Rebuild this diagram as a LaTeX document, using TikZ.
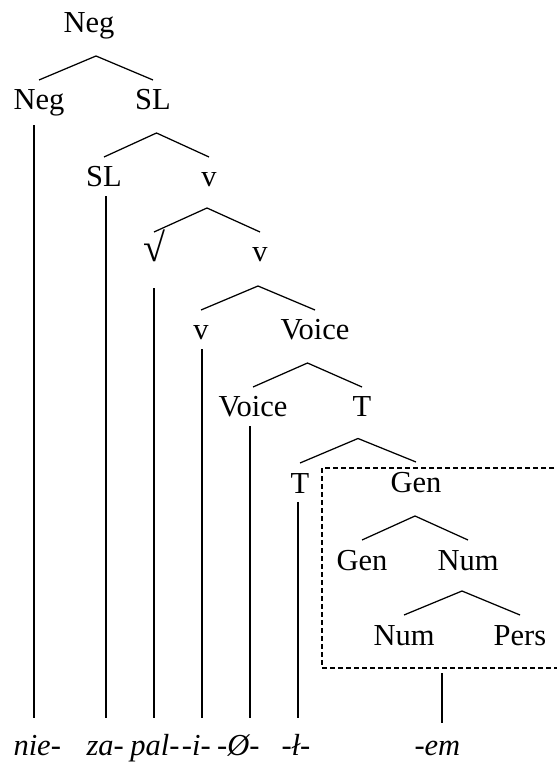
\documentclass[tikz,border=0pt]{standalone}
\usepackage{fontspec}
\setmainfont{Liberation Serif}
\usetikzlibrary{calc, positioning}

\begin{document}
\begin{tikzpicture}[x=0.4pt, y=-0.4pt, font=\fontsize{12.2}{14}\selectfont,
    cat/.style={anchor=base},
    morph/.style={anchor=base west, inner sep=0pt, font=\fontsize{12.2}{14}\selectfont\itshape},
    branch/.style={line width=0.5pt},
    stem/.style={line width=0.8pt},
    spellout/.style={dashed, dash pattern=on 2pt off 1.2pt, line width=0.45pt}]
    \useasboundingbox (0,0) rectangle (556,764);

    % tree nodes
    \node[cat] (n0) at (89,33) {Neg};
    \node[cat] (n1) at (39,110) {Neg};
    \node[cat] (s1) at (153,110) {SL};
    \node[cat] (s2) at (104,187) {SL};
    \node[cat] (v1) at (209,187) {v};
    \node[cat, font=\fontsize{16}{18}\selectfont, text depth=7pt] (r) at (154,262) {√};
    \node[cat] (v2) at (260,262) {v};
    \node[cat] (v3) at (201,340) {v};
    \node[cat] (vo1) at (315,340) {Voice};
    \node[cat] (vo2) at (253,417) {Voice};
    \node[cat] (t1) at (362,417) {T};
    \node[cat] (t2) at (300,493) {T};
    \node[cat] (g1) at (416,492) {Gen};
    \node[cat] (g2) at (362,570) {Gen};
    \node[cat] (nu1) at (468,570) {Num};
    \node[cat] (nu2) at (404,645) {Num};
    \node[cat] (p) at (520,645) {Pers};

    % exponents
    \node[morph] (nie) at (13,755) {nie-};
    \node[morph] (za) at (86,755) {za-};
    \node[morph] (pal) [base right=2.2pt of za] {pal-};
    \node[morph] (i) [base right=0.6pt of pal] {-i-};
    \node[morph] (zero) [base right=2.2pt of i] {-Ø-};
    \node[morph] (l) at (281,755) {-ł-};
    \node[morph] (em) at (414,755) {-em};

    \coordinate (bot) at (0,718);
    \coordinate (boxnw) at (322,468);
    \coordinate (boxse) at (562,668);
    \coordinate (emtop) at (442,673);
    \coordinate (embot) at (442,723);

    % branches
    \foreach \l/\r in {n1/s1, s2/v1, r/v2, v3/vo1, vo2/t1, t2/g1, g2/nu1, nu2/p}
      \draw[branch] ($(\l.base)+(0,12pt)$) -- ($(\l.base)!.5!(\r.base)+(0,21.6pt)$) -- ($(\r.base)+(0,12pt)$);

    % lines down to the exponents
    \foreach \n/\x in {n1/34, s2/106, r/154, v3/202, vo2/250, t2/298}
      \draw[stem] (\x,0 |- \n.south) -- (\x,0 |- bot);
    \draw[stem] (emtop) -- (embot);

    % span of -em
    \draw[spellout] (boxnw) rectangle (boxse);
\end{tikzpicture}
\end{document}
